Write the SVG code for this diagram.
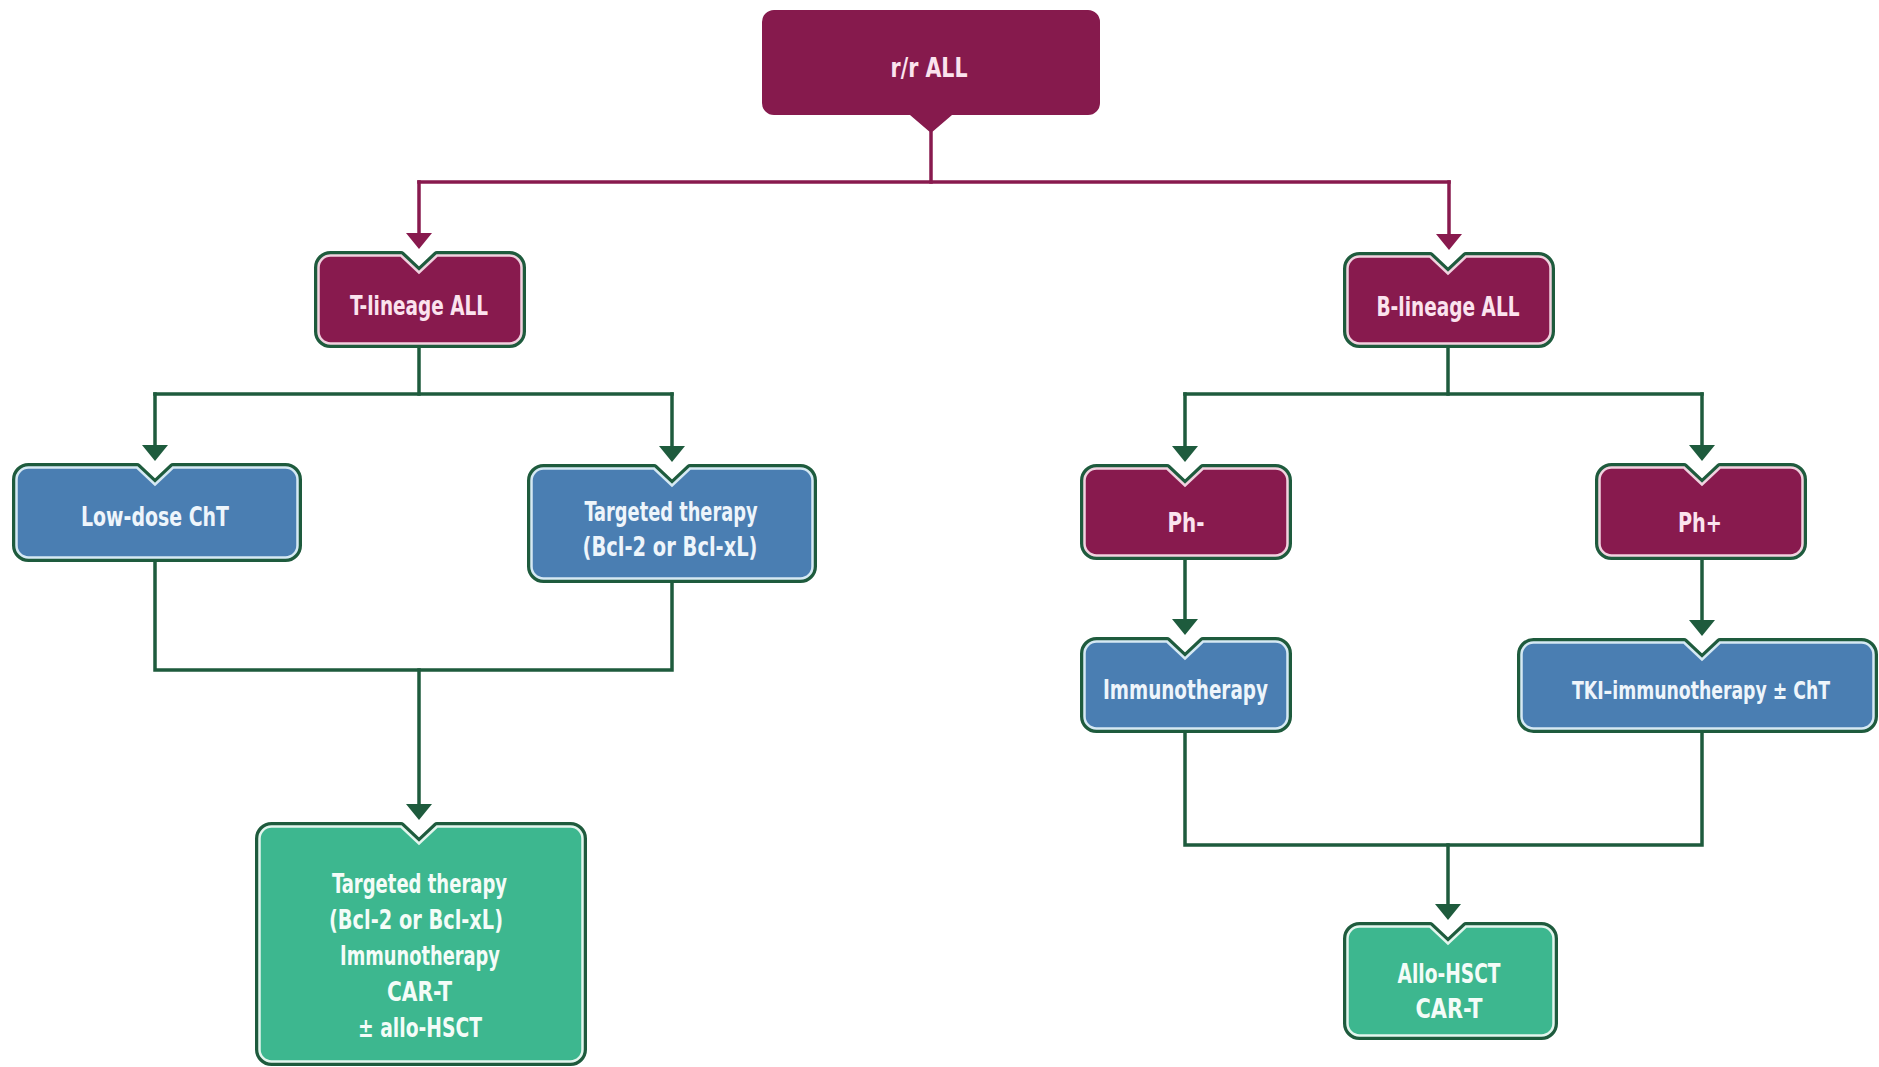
<svg xmlns="http://www.w3.org/2000/svg" width="1879" height="1067" viewBox="0 0 1879 1067">
  <style>
    .edge { fill: none; stroke: #1E5B3D; stroke-width: 3.5; stroke-linejoin: miter; stroke-linecap: square; }
    .edge-m { fill: none; stroke: #881A4E; stroke-width: 3.5; stroke-linejoin: miter; stroke-linecap: square; }
    .rim { stroke: #1E5B3D; stroke-width: 9; stroke-linejoin: round; }
    .m .body { fill: #881A4E; stroke: #F2D2E0; stroke-width: 2.5; }
    .b .body { fill: #4A7EB2; stroke: #D6E9F4; stroke-width: 2.5; }
    .g .body { fill: #3DB78F; stroke: #E3F6EE; stroke-width: 2.5; }
    .m .rim { fill: #881A4E; }
    .b .rim { fill: #4A7EB2; }
    .g .rim { fill: #3DB78F; }
    text { font-family: "Liberation Sans Narrow", "DejaVu Sans Condensed", "Liberation Sans", sans-serif; font-weight: bold; font-size: 26.5px; text-anchor: middle; }
    .m text { fill: #FBE3EE; }
    .b text { fill: #EEF5FB; }
    .g text { fill: #F4FCF8; }
  </style>
  <defs>
    <marker id="arr" viewBox="0 0 16 26" refX="0" refY="13" markerWidth="16" markerHeight="26" orient="auto" markerUnits="userSpaceOnUse">
      <path d="M0,0 L16,13 L0,26 Z" fill="#1E5B3D"/>
    </marker>
    <marker id="arr-m" viewBox="0 0 16 26" refX="0" refY="13" markerWidth="16" markerHeight="26" orient="auto" markerUnits="userSpaceOnUse">
      <path d="M0,0 L16,13 L0,26 Z" fill="#881A4E"/>
    </marker>
  </defs>

  <rect width="1879" height="1067" fill="#FFFFFF"/>

  <!-- connectors -->
  <g id="connectors">
    <path class="edge-m" d="M931,133 V182"/>
    <path class="edge-m" d="M419,182 H1449"/>
    <path class="edge-m" d="M419,182 V233" marker-end="url(#arr-m)"/>
    <path class="edge-m" d="M1449,182 V234" marker-end="url(#arr-m)"/>

    <path class="edge" d="M419,348 V394"/>
    <path class="edge" d="M155,394 H672"/>
    <path class="edge" d="M155,394 V445" marker-end="url(#arr)"/>
    <path class="edge" d="M672,394 V446" marker-end="url(#arr)"/>

    <path class="edge" d="M1448,348 V394"/>
    <path class="edge" d="M1185,394 H1702"/>
    <path class="edge" d="M1185,394 V446" marker-end="url(#arr)"/>
    <path class="edge" d="M1702,394 V445" marker-end="url(#arr)"/>

    <path class="edge" d="M1185,560 V619" marker-end="url(#arr)"/>
    <path class="edge" d="M1702,560 V620" marker-end="url(#arr)"/>

    <path class="edge" d="M155,562 V670 H672 V583"/>
    <path class="edge" d="M419,670 V804" marker-end="url(#arr)"/>

    <path class="edge" d="M1185,733 V845 H1702 V733"/>
    <path class="edge" d="M1448,845 V904" marker-end="url(#arr)"/>
  </g>

  <!-- root -->
  <g id="node-rr-all">
    <path d="M774,10 H1088 A12,12 0 0 1 1100,22 V103 A12,12 0 0 1 1088,115 H952 L931,133 L910,115 H774 A12,12 0 0 1 762,103 V22 A12,12 0 0 1 774,10 Z" fill="#861A4D"/>
    <text x="929" y="77" fill="#FBE3EE" textLength="77" lengthAdjust="spacingAndGlyphs">r/r ALL</text>
  </g>

  <g id="node-t-lineage" class="m">
    <path class="rim" d="M330.5,255.5 H401 L419,272.5 L437,255.5 H509.5 A12,12 0 0 1 521.5,267.5 V331.5 A12,12 0 0 1 509.5,343.5 H330.5 A12,12 0 0 1 318.5,331.5 V267.5 A12,12 0 0 1 330.5,255.5 Z"/>
    <path class="body" d="M330.5,255.5 H401 L419,272.5 L437,255.5 H509.5 A12,12 0 0 1 521.5,267.5 V331.5 A12,12 0 0 1 509.5,343.5 H330.5 A12,12 0 0 1 318.5,331.5 V267.5 A12,12 0 0 1 330.5,255.5 Z"/>
    <text x="419" y="315" textLength="138" lengthAdjust="spacingAndGlyphs">T-lineage ALL</text>
  </g>

  <g id="node-b-lineage" class="m">
    <path class="rim" d="M1359.5,256.5 H1430 L1448,273.5 L1466,256.5 H1538.5 A12,12 0 0 1 1550.5,268.5 V331.5 A12,12 0 0 1 1538.5,343.5 H1359.5 A12,12 0 0 1 1347.5,331.5 V268.5 A12,12 0 0 1 1359.5,256.5 Z"/>
    <path class="body" d="M1359.5,256.5 H1430 L1448,273.5 L1466,256.5 H1538.5 A12,12 0 0 1 1550.5,268.5 V331.5 A12,12 0 0 1 1538.5,343.5 H1359.5 A12,12 0 0 1 1347.5,331.5 V268.5 A12,12 0 0 1 1359.5,256.5 Z"/>
    <text x="1448" y="316" textLength="143" lengthAdjust="spacingAndGlyphs">B-lineage ALL</text>
  </g>

  <g id="node-low-dose" class="b">
    <path class="rim" d="M28.5,467.5 H137 L155,484.5 L173,467.5 H285.5 A12,12 0 0 1 297.5,479.5 V545.5 A12,12 0 0 1 285.5,557.5 H28.5 A12,12 0 0 1 16.5,545.5 V479.5 A12,12 0 0 1 28.5,467.5 Z"/>
    <path class="body" d="M28.5,467.5 H137 L155,484.5 L173,467.5 H285.5 A12,12 0 0 1 297.5,479.5 V545.5 A12,12 0 0 1 285.5,557.5 H28.5 A12,12 0 0 1 16.5,545.5 V479.5 A12,12 0 0 1 28.5,467.5 Z"/>
    <text x="155" y="526" textLength="148" lengthAdjust="spacingAndGlyphs">Low-dose ChT</text>
  </g>

  <g id="node-targeted" class="b">
    <path class="rim" d="M543.5,468.5 H654 L672,485.5 L690,468.5 H800.5 A12,12 0 0 1 812.5,480.5 V566.5 A12,12 0 0 1 800.5,578.5 H543.5 A12,12 0 0 1 531.5,566.5 V480.5 A12,12 0 0 1 543.5,468.5 Z"/>
    <path class="body" d="M543.5,468.5 H654 L672,485.5 L690,468.5 H800.5 A12,12 0 0 1 812.5,480.5 V566.5 A12,12 0 0 1 800.5,578.5 H543.5 A12,12 0 0 1 531.5,566.5 V480.5 A12,12 0 0 1 543.5,468.5 Z"/>
    <text x="671" y="521" textLength="173" lengthAdjust="spacingAndGlyphs">Targeted therapy</text>
    <text x="670" y="556" textLength="175" lengthAdjust="spacingAndGlyphs">(Bcl-2 or Bcl-xL)</text>
  </g>

  <g id="node-t-outcome" class="g">
    <path class="rim" d="M271.5,826.5 H401 L419,843.5 L437,826.5 H570.5 A12,12 0 0 1 582.5,838.5 V1049.5 A12,12 0 0 1 570.5,1061.5 H271.5 A12,12 0 0 1 259.5,1049.5 V838.5 A12,12 0 0 1 271.5,826.5 Z"/>
    <path class="body" d="M271.5,826.5 H401 L419,843.5 L437,826.5 H570.5 A12,12 0 0 1 582.5,838.5 V1049.5 A12,12 0 0 1 570.5,1061.5 H271.5 A12,12 0 0 1 259.5,1049.5 V838.5 A12,12 0 0 1 271.5,826.5 Z"/>
    <text x="419.5" y="893" textLength="175" lengthAdjust="spacingAndGlyphs">Targeted therapy</text>
    <text x="416" y="929" textLength="174" lengthAdjust="spacingAndGlyphs">(Bcl-2 or Bcl-xL)</text>
    <text x="420" y="965" textLength="160" lengthAdjust="spacingAndGlyphs">Immunotherapy</text>
    <text x="419.5" y="1001" textLength="65" lengthAdjust="spacingAndGlyphs">CAR-T</text>
    <text x="420" y="1037" textLength="124" lengthAdjust="spacingAndGlyphs">± allo-HSCT</text>
  </g>

  <g id="node-ph-neg" class="m">
    <path class="rim" d="M1096.5,468.5 H1167 L1185,485.5 L1203,468.5 H1275.5 A12,12 0 0 1 1287.5,480.5 V543.5 A12,12 0 0 1 1275.5,555.5 H1096.5 A12,12 0 0 1 1084.5,543.5 V480.5 A12,12 0 0 1 1096.5,468.5 Z"/>
    <path class="body" d="M1096.5,468.5 H1167 L1185,485.5 L1203,468.5 H1275.5 A12,12 0 0 1 1287.5,480.5 V543.5 A12,12 0 0 1 1275.5,555.5 H1096.5 A12,12 0 0 1 1084.5,543.5 V480.5 A12,12 0 0 1 1096.5,468.5 Z"/>
    <text x="1186" y="532" textLength="37" lengthAdjust="spacingAndGlyphs">Ph-</text>
  </g>

  <g id="node-ph-pos" class="m">
    <path class="rim" d="M1611.5,467.5 H1684 L1702,484.5 L1720,467.5 H1790.5 A12,12 0 0 1 1802.5,479.5 V543.5 A12,12 0 0 1 1790.5,555.5 H1611.5 A12,12 0 0 1 1599.5,543.5 V479.5 A12,12 0 0 1 1611.5,467.5 Z"/>
    <path class="body" d="M1611.5,467.5 H1684 L1702,484.5 L1720,467.5 H1790.5 A12,12 0 0 1 1802.5,479.5 V543.5 A12,12 0 0 1 1790.5,555.5 H1611.5 A12,12 0 0 1 1599.5,543.5 V479.5 A12,12 0 0 1 1611.5,467.5 Z"/>
    <text x="1700" y="532" textLength="44" lengthAdjust="spacingAndGlyphs">Ph+</text>
  </g>

  <g id="node-immuno" class="b">
    <path class="rim" d="M1096.5,641.5 H1167 L1185,658.5 L1203,641.5 H1275.5 A12,12 0 0 1 1287.5,653.5 V716.5 A12,12 0 0 1 1275.5,728.5 H1096.5 A12,12 0 0 1 1084.5,716.5 V653.5 A12,12 0 0 1 1096.5,641.5 Z"/>
    <path class="body" d="M1096.5,641.5 H1167 L1185,658.5 L1203,641.5 H1275.5 A12,12 0 0 1 1287.5,653.5 V716.5 A12,12 0 0 1 1275.5,728.5 H1096.5 A12,12 0 0 1 1084.5,716.5 V653.5 A12,12 0 0 1 1096.5,641.5 Z"/>
    <text x="1185.5" y="699" textLength="165" lengthAdjust="spacingAndGlyphs">Immunotherapy</text>
  </g>

  <g id="node-tki" class="b">
    <path class="rim" d="M1533.5,642.5 H1684 L1702,659.5 L1720,642.5 H1861.5 A12,12 0 0 1 1873.5,654.5 V716.5 A12,12 0 0 1 1861.5,728.5 H1533.5 A12,12 0 0 1 1521.5,716.5 V654.5 A12,12 0 0 1 1533.5,642.5 Z"/>
    <path class="body" d="M1533.5,642.5 H1684 L1702,659.5 L1720,642.5 H1861.5 A12,12 0 0 1 1873.5,654.5 V716.5 A12,12 0 0 1 1861.5,728.5 H1533.5 A12,12 0 0 1 1521.5,716.5 V654.5 A12,12 0 0 1 1533.5,642.5 Z"/>
    <text x="1701" y="699" style="font-size:25px" textLength="258" lengthAdjust="spacingAndGlyphs">TKI–immunotherapy ± ChT</text>
  </g>

  <g id="node-b-outcome" class="g">
    <path class="rim" d="M1359.5,926.5 H1430 L1448,943.5 L1466,926.5 H1541.5 A12,12 0 0 1 1553.5,938.5 V1023.5 A12,12 0 0 1 1541.5,1035.5 H1359.5 A12,12 0 0 1 1347.5,1023.5 V938.5 A12,12 0 0 1 1359.5,926.5 Z"/>
    <path class="body" d="M1359.5,926.5 H1430 L1448,943.5 L1466,926.5 H1541.5 A12,12 0 0 1 1553.5,938.5 V1023.5 A12,12 0 0 1 1541.5,1035.5 H1359.5 A12,12 0 0 1 1347.5,1023.5 V938.5 A12,12 0 0 1 1359.5,926.5 Z"/>
    <text x="1449" y="983" textLength="103" lengthAdjust="spacingAndGlyphs">Allo-HSCT</text>
    <text x="1449" y="1018" textLength="67" lengthAdjust="spacingAndGlyphs">CAR-T</text>
  </g>
</svg>
